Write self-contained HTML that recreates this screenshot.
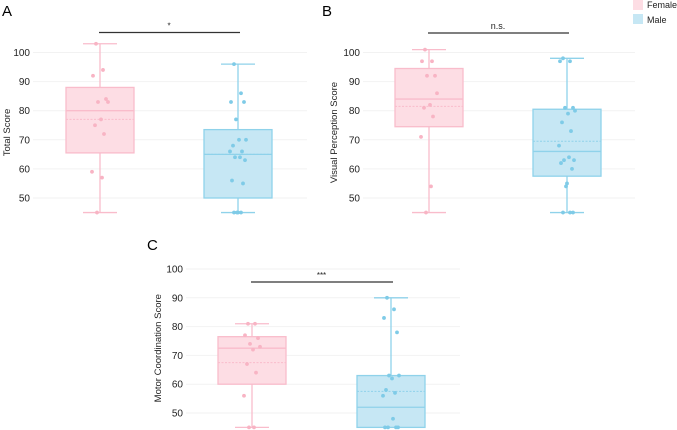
<!DOCTYPE html>
<html><head><meta charset="utf-8"><style>
html,body{margin:0;padding:0;background:#fff;width:677px;height:430px;overflow:hidden}
svg{display:block;font-family:"Liberation Sans",Arial,sans-serif}
</style></head><body>
<svg id="fig" width="677" height="430"></svg>
<script>
const groups=["Female","Male"];
const panelNames=["A","B","C"];
const yTitles=["Total Score","Visual Perception Score","Motor Coordination Score"];
const sigLabels=["*","n.s.","***"];
const yTicks=[50,60,70,80,90,100];
// stats: [min,q1,median,mean,q3,max]
const statsA=[[45,65.5,80,77,88,103],[45,50,65,65,73.5,96]];
const statsB=[[45,74.5,84,81.5,94.5,101],[45,57.5,66,69.5,80.5,98]];
const statsC=[[45,60,72.5,67.5,76.5,81],[45,45,52,57.5,63,90]];
const pointsA=[[103,94,92,84,83,83,77,75,72,59,57,45],[96,86,83,83,77,70,70,68,66,66,64,64,63,56,55,45,45,45,45]];
const pointsB=[[101,97,97,92,92,86,82,81,78,71,54,45],[98,97,97,81,81,80,79,76,73,68,64,63,63,62,60,55,54,45,45,45]];
const pointsC=[[81,81,77,76,74,73,72,67,64,56,45,45],[90,86,83,78,63,63,62,58,57,56,48,45,45,45,45]];
const jitter=[-4,3,-7,6,-2,8,1,-5,4,-8,2,-3,7,-6,5,0,-1,3,-4,6];

const NS="http://www.w3.org/2000/svg";
const svg=document.getElementById('fig');
function mk(tag,attrs,parent,text){const e=document.createElementNS(NS,tag);for(const k in attrs)e.setAttribute(k,attrs[k]);if(text!==undefined)e.textContent=text;(parent||svg).appendChild(e);return e;}
const fills=["#fddde4","#c6e7f4"],strokes=["#f9bccb","#8fd2ea"],pts=["#f8b4c4","#7fcbe7"];

const layout=[
 {ox:0,lab:[2,16],y100:52.5,y50:198,tickX:30,gx0:33,gx1:307,cx:[100,238],sigY:32.5,titleX:7,lx:[2,16]},
 {ox:0,lab:[322,16],y100:52.5,y50:198,tickX:360,gx0:363,gx1:635,cx:[429,567],sigY:33,titleX:334},
 {ox:0,lab:[147,250],y100:269,y50:413,tickX:183,gx0:186,gx1:460,cx:[252,391],sigY:282,titleX:158}
];
const allStats=[statsA,statsB,statsC],allPts=[pointsA,pointsB,pointsC];

layout.forEach((L,p)=>{
 const g=mk('g',{});
 
 
 const y=v=>L.y50+(v-50)*(L.y100-L.y50)/50;
 const pl=mk('text',{x:L.lab[0],y:L.lab[1],'font-size':15,fill:'#000'},g,panelNames[p]);
 
 
 yTicks.forEach(t=>{
  const gl=mk('line',{x1:L.gx0,x2:L.gx1,y1:y(t),y2:y(t),stroke:'#f2f2f2','stroke-width':1},g);
  
  
  const tl=mk('text',{x:L.tickX,y:y(t)+3.5,'font-size':10,'text-anchor':'end',fill:'#222'},g,t);
  
  
 });
 const ymid=(y(45)+y(100))/2;
 const yt=mk('text',{x:L.titleX,y:ymid,'font-size':9.5,'text-anchor':'middle',fill:'#222',transform:`rotate(-90 ${L.titleX} ${ymid})`,dy:3},g,yTitles[p]);
 
 
 groups.forEach((gr,i)=>{
  const s=allStats[p][i],cx=L.cx[i],hw=34,cw=17;
  const bg=mk('g',{},g);
  
  
  mk('line',{x1:cx,x2:cx,y1:y(s[0]),y2:y(s[5]),stroke:strokes[i],'stroke-width':1.3},bg);
  mk('line',{x1:cx-cw,x2:cx+cw,y1:y(s[0]),y2:y(s[0]),stroke:strokes[i],'stroke-width':1.3},bg);
  mk('line',{x1:cx-cw,x2:cx+cw,y1:y(s[5]),y2:y(s[5]),stroke:strokes[i],'stroke-width':1.3},bg);
  mk('rect',{x:cx-hw,y:y(s[4]),width:2*hw,height:y(s[1])-y(s[4]),fill:fills[i],stroke:strokes[i],'stroke-width':1.3},bg);
  mk('line',{x1:cx-hw,x2:cx+hw,y1:y(s[2]),y2:y(s[2]),stroke:strokes[i],'stroke-width':1.3},bg);
  mk('line',{x1:cx-hw,x2:cx+hw,y1:y(s[3]),y2:y(s[3]),stroke:strokes[i],'stroke-width':1,'stroke-dasharray':'2 1.5'},bg);
  allPts[p][i].forEach((v,k)=>{
   const c=mk('circle',{cx:cx+jitter[k%jitter.length],cy:y(v),r:1.9,fill:pts[i]},bg);
   
   
  });
 });
 const sl=mk('line',{x1:L.cx[0]-1,x2:L.cx[1]+2,y1:L.sigY,y2:L.sigY,stroke:'#333','stroke-width':1.3},g);
 
 
 const st=mk('text',{x:(L.cx[0]+L.cx[1])/2,y:L.sigY-4,'font-size':p===1?9:8,'text-anchor':'middle',fill:'#222'},g,sigLabels[p]);
 
 
});
// legend
groups.forEach((gr,i)=>{
 const lg=mk('g',{});
 
 
 mk('rect',{x:633,y:i===0?0:14,width:10,height:10,fill:fills[i]},lg);
 mk('text',{x:647,y:i===0?8:23,'font-size':9,fill:'#222'},lg,gr);
});
</script>
</body></html>
